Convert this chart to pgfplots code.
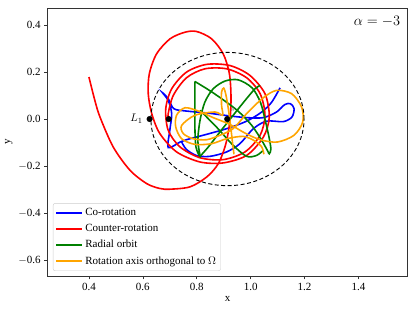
\documentclass[border=0pt]{standalone}
\usepackage{pgfplots}
\pgfplotsset{compat=1.18}
\usepackage{fontspec}
\setmainfont{Liberation Serif}
\definecolor{mplgreen}{RGB}{0,128,0}
\definecolor{mplorange}{RGB}{255,165,0}
\begin{document}
\begin{tikzpicture}
\begin{axis}[
  scale only axis, width=359.6pt, height=267.7pt,
  xmin=0.247, xmax=1.581, ymin=-0.669, ymax=0.472,
  xtick={0.4,0.6,0.8,1.0,1.2,1.4},
  ytick={-0.6,-0.4,-0.2,0,0.2,0.4},
  xticklabels={0.4,0.6,0.8,1.0,1.2,1.4},
  yticklabels={$-$0.6,$-$0.4,$-$0.2,0.0,0.2,0.4},
  tick align=outside, tick pos=left,
  major tick length=3.5pt,
  axis line style={black!80, line width=0.6pt},
  every tick/.style={black!80, line width=0.6pt},
  tick label style={font=\fontsize{11}{13}\selectfont},
  label style={font=\fontsize{11}{13}\selectfont},
  xlabel={x}, ylabel={y},
  xlabel style={yshift=1pt},
  ylabel style={yshift=-1pt},
  legend cell align=left,
  legend style={at={(0.0147,0.0187)}, anchor=south west, draw=black!20, rounded corners=2pt,
    font=\fontsize{11}{13}\selectfont, row sep=3.2pt, inner sep=2.5pt, inner ysep=3pt},
  legend image code/.code={\draw[#1] plot coordinates {(0pt,0pt) (26pt,0pt)};},
]
% Co-rotation
\addplot[blue, line width=1.6pt, smooth, tension=0.5] coordinates {
(1.109,0.133) (1.078,0.072) (1.041,0.030) (0.985,-0.009) (0.911,-0.041) (0.837,-0.065)
(0.762,-0.088) (0.738,-0.098) (0.694,-0.122) (0.700,-0.048) (0.707,0.023) (0.694,0.079)
(0.673,0.112) (0.694,0.087) (0.715,0.044) (0.762,0.034) (0.837,0.026) (0.917,0.014)
(0.985,0.006) (1.047,0.006) (1.096,0.030) (1.127,0.062) (1.148,0.065) (1.161,0.044)
(1.153,0.0085) (1.121,-0.011) (1.059,-0.009) (1.010,-0.041) (0.960,-0.105) (0.911,-0.140)
(0.849,-0.159) (0.800,-0.156) (0.762,-0.130) (0.744,-0.098)
};
\addlegendentry{Co-rotation}
% Counter-rotation
\addplot[red, line width=1.6pt, smooth, tension=0.5] coordinates {
(0.696,0.000) (0.694,0.023) (0.713,0.101) (0.762,0.176) (0.830,0.214) (0.911,0.214)
(0.985,0.176) (1.035,0.108) (1.053,0.016) (1.035,-0.069) (0.979,-0.140) (0.898,-0.173)
(0.812,-0.165) (0.738,-0.119) (0.694,-0.048) (0.685,0.044) (0.707,0.129) (0.762,0.200)
(0.837,0.233) (0.923,0.228) (0.997,0.186) (1.053,0.108) (1.069,0.0085) (1.047,-0.077)
(0.985,-0.155) (0.898,-0.187) (0.812,-0.183) (0.725,-0.140) (0.663,-0.062) (0.633,0.023)
(0.620,0.108) (0.624,0.193) (0.651,0.278) (0.701,0.342) (0.756,0.370) (0.800,0.373)
(0.855,0.342) (0.898,0.278) (0.921,0.193) (0.927,0.094) (0.923,-0.006) (0.908,-0.105)
(0.880,-0.190) (0.837,-0.247) (0.775,-0.289) (0.701,-0.299) (0.663,-0.296) (0.614,-0.275)
(0.552,-0.218) (0.490,-0.119) (0.441,0.0085) (0.422,0.079) (0.400,0.179)
};
\addlegendentry{Counter-rotation}
% Radial orbit
\addplot[mplgreen, line width=1.6pt, smooth, tension=0.5] coordinates {
(0.793,0.160) (0.843,0.125) (0.898,0.082) (0.954,0.033) (1.004,-0.027) (1.041,-0.091)
(1.063,-0.136) (1.069,-0.148) (1.075,-0.128) (1.068,-0.077) (1.054,-0.006) (1.036,0.072)
(1.005,0.133) (0.954,0.167) (0.905,0.162) (0.861,0.129) (0.830,0.072) (0.812,-0.006)
(0.804,-0.091) (0.812,-0.159) (0.797,-0.119) (0.793,-0.034) (0.793,0.065) (0.793,0.160)
};
\addlegendentry{Radial orbit}
\addplot[mplgreen, line width=1.6pt, smooth, tension=0.5, forget plot] coordinates {
(0.812,-0.159) (0.843,-0.119) (0.886,-0.055) (0.935,0.016) (0.979,0.079) (1.016,0.129) (1.035,0.143)
};
\addplot[mplgreen, line width=1.6pt, smooth, tension=0.5, forget plot] coordinates {
(0.812,0.037) (0.873,-0.034) (0.935,-0.112) (0.985,-0.159) (1.022,-0.155) (1.047,-0.133)
};
% Orthogonal axis
\addplot[mplorange, line width=1.6pt, smooth, tension=0.5] coordinates {
(0.938,-0.150) (0.933,-0.105) (0.926,-0.034) (0.917,0.044) (0.908,0.104) (0.900,0.132)
(0.892,0.115) (0.892,0.058) (0.896,0.016) (0.868,0.030) (0.793,0.016) (0.744,-0.027)
(0.750,-0.062) (0.787,-0.084) (0.837,-0.088) (0.886,-0.069) (0.935,-0.041) (0.985,0.023)
(1.047,0.091) (1.096,0.122) (1.152,0.108) (1.189,0.051) (1.193,-0.013) (1.161,-0.069)
(1.099,-0.098) (1.035,-0.088) (0.979,-0.060) (0.923,-0.023) (0.861,0.006) (0.806,0.034)
(0.756,0.048) (0.725,0.016) (0.722,-0.034) (0.744,-0.084) (0.793,-0.108) (0.855,-0.105)
(0.911,-0.084) (0.973,-0.074) (1.016,-0.094) (1.041,-0.119) (1.049,-0.150)
};
\addlegendentry{Rotation axis orthogonal to $\Omega$}
% dashed circle
\draw[black, line width=0.9pt, dash pattern=on 4pt off 2.5pt] (axis cs:0.914,0) ellipse [x radius=0.284, y radius=0.284];
% points
\addplot[only marks, mark=*, mark size=2.8pt, black, forget plot] coordinates {(0.625,0) (0.696,0) (0.913,0)};
\node[anchor=east, font=\fontsize{11}{13}\selectfont] at (axis cs:0.612,0.002) {$L_1$};
\node[font=\fontsize{5.5}{6}\selectfont, text=black!70] at (axis cs:0.934,0.040) {$S$};
\node[anchor=north east, font=\fontsize{15}{17}\selectfont] at (rel axis cs:0.99,0.985) {$\alpha = -3$};
\end{axis}
\pgfresetboundingbox
\path (current axis.south west) ++(-47.7pt,-35pt) rectangle ([shift={(8.7pt,8.3pt)}]current axis.north east);
\end{tikzpicture}
\end{document}
